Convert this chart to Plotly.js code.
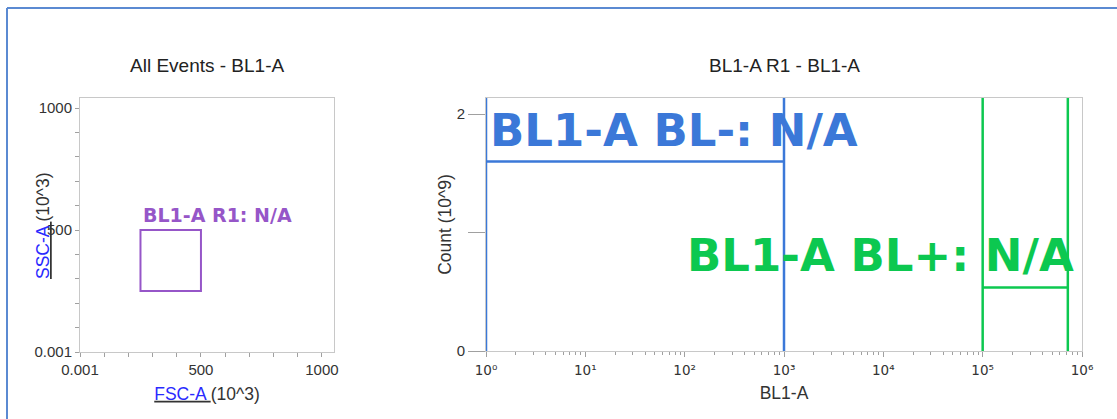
<!DOCTYPE html>
<html><head><meta charset="utf-8">
<script src="https://cdn.plot.ly/plotly-3.0.1.min.js"></script>
<style>html,body{margin:0;padding:0;background:#fff;}#chart{width:1117px;height:419px;}</style>
</head><body><div id="chart"></div>
<script>
// ---- data ----
const plotTitles = ["All Events - BL1-A", "BL1-A R1 - BL1-A"];
// left dot plot: FSC-A vs SSC-A (10^3)
const dotTickVals = [0.001, 500, 1000];
const dotTickText = ["0.001", "500", "1000"];
const dotMinorVals = [100, 200, 300, 400, 600, 700, 800, 900];
const dotRangeX = [0.001, 1050];
const dotRangeY = [0.001, 1041];
const r1GateX = [250, 500];
const r1GateY = [250, 500];
const r1Label = "BL1-A R1: N/A";
// right histogram: BL1-A (log) vs Count (10^9)
const histTickVals = [1, 10, 100, 1000, 10000, 100000, 1000000];
const histTickText = ["10⁰", "10¹", "10²", "10³", "10⁴", "10⁵", "10⁶"];
const histRangeLog = [0, 6];
const countTickVals = [0, 2];
const countTickText = ["0", "2"];
const countMinorVals = [1];
const countRange = [0, 2.135];
const blMinusX = [1, 1000];
const blMinusLevel = 1.60;
const blMinusLabel = "BL1-A BL-: N/A";
const blPlusX = [100000, 720000];
const blPlusLevel = 0.535;
const blPlusLabel = "BL1-A BL+: N/A";

// ---- styles ----
const W = 1117, H = 419;
const px = v => v / W, py = v => 1 - v / H;
const BASE = "Liberation Sans, Arial, sans-serif";
const GATEFONT = "DejaVu Sans, Verdana, sans-serif";
const TXT = "#333333";
const FRAME = "#c8c8c8";
const TICK = "#a0a0a0";
const BLUE = "#3b78d8", GREEN = "#0cc850", PURPLE = "#9656c8", OUTER = "#5b8ad2";
const LINK = "#2a2aff";
const titleFont = {family: BASE, size: 17.5, color: TXT};

const histMinor = [];
for (let d = 0; d < 6; d++) for (let m = 2; m <= 9; m++) histMinor.push(m * Math.pow(10, d));

const commonAxis = {
  showgrid: false, zeroline: false, showline: true, mirror: true,
  linecolor: FRAME, linewidth: 1, ticks: "outside", tickcolor: TICK,
  tickfont: {family: BASE, size: 15, color: TXT}
};

const traces = [
  {type: "scatter", mode: "markers", x: [], y: [], xaxis: "x", yaxis: "y", showlegend: false, hoverinfo: "skip"},
  {type: "scatter", mode: "markers", x: [], y: [], xaxis: "x2", yaxis: "y2", showlegend: false, hoverinfo: "skip"}
];

const layout = {
  width: W, height: H, margin: {l: 0, r: 0, t: 0, b: 0},
  paper_bgcolor: "#fff", plot_bgcolor: "#fff", showlegend: false,
  font: {family: BASE, color: TXT},
  xaxis: Object.assign({}, commonAxis, {
    domain: [px(80), px(334)], range: dotRangeX, anchor: "y",
    tickmode: "array", tickvals: dotTickVals, ticktext: dotTickText, ticklen: 4,
    minor: {tickmode: "array", tickvals: dotMinorVals, ticks: "outside", ticklen: 4, tickcolor: TICK},
    title: {text: '<u><span style="color:' + LINK + '">FSC-A </span></u>(10^3)', font: titleFont, standoff: 10}
  }),
  yaxis: Object.assign({}, commonAxis, {
    domain: [py(352), py(98)], range: dotRangeY, anchor: "x",
    tickmode: "array", tickvals: dotTickVals, ticktext: dotTickText, ticklen: 4,
    minor: {tickmode: "array", tickvals: dotMinorVals, ticks: "outside", ticklen: 4, tickcolor: TICK}
  }),
  xaxis2: Object.assign({}, commonAxis, {
    domain: [px(486), px(1082)], type: "log", range: histRangeLog, anchor: "y2",
    tickmode: "array", tickvals: histTickVals, ticktext: histTickText,
    tickfont: {family: "DejaVu Sans, sans-serif", size: 13.5, color: TXT},
    ticklen: 5, ticklabelstandoff: 2,
    minor: {tickmode: "array", tickvals: histMinor, ticks: "outside", ticklen: 3, tickcolor: TICK},
    title: {text: "BL1-A", font: titleFont, standoff: 9}
  }),
  yaxis2: Object.assign({}, commonAxis, {
    domain: [py(351), py(98)], range: countRange, anchor: "x2",
    tickmode: "array", tickvals: countTickVals, ticktext: countTickText, ticklen: 17,
    minor: {tickmode: "array", tickvals: countMinorVals, ticks: "outside", ticklen: 17, tickcolor: TICK},
    title: {text: "Count (10^9)", font: titleFont, standoff: 0}
  }),
  shapes: [
    // outer panel frame
    {type: "line", xref: "paper", yref: "paper", x0: px(7), x1: 1, y0: py(8), y1: py(8), line: {color: OUTER, width: 2}},
    {type: "line", xref: "paper", yref: "paper", x0: px(7), x1: px(7), y0: py(8), y1: 0, line: {color: OUTER, width: 2}},
    // R1 gate
    {type: "rect", xref: "x", yref: "y", x0: r1GateX[0], x1: r1GateX[1], y0: r1GateY[0], y1: r1GateY[1],
     line: {color: PURPLE, width: 2}, layer: "above"},
    // BL- gate
    {type: "line", xref: "x2", yref: "y2 domain", x0: blMinusX[0], x1: blMinusX[0], y0: 0, y1: 1, line: {color: BLUE, width: 2.5}},
    {type: "line", xref: "x2", yref: "y2 domain", x0: blMinusX[1], x1: blMinusX[1], y0: 0, y1: 1, line: {color: BLUE, width: 2.5}},
    {type: "line", xref: "x2", yref: "y2", x0: blMinusX[0], x1: blMinusX[1], y0: blMinusLevel, y1: blMinusLevel, line: {color: BLUE, width: 2.5}},
    // BL+ gate
    {type: "line", xref: "x2", yref: "y2 domain", x0: blPlusX[0], x1: blPlusX[0], y0: 0, y1: 1, line: {color: GREEN, width: 2.5}},
    {type: "line", xref: "x2", yref: "y2 domain", x0: blPlusX[1], x1: blPlusX[1], y0: 0, y1: 1, line: {color: GREEN, width: 2.5}},
    {type: "line", xref: "x2", yref: "y2", x0: blPlusX[0], x1: blPlusX[1], y0: blPlusLevel, y1: blPlusLevel, line: {color: GREEN, width: 2.5}}
  ],
  annotations: [
    {text: plotTitles[0], xref: "paper", yref: "paper", x: (px(80) + px(334)) / 2, y: py(65),
     xanchor: "center", yanchor: "middle", showarrow: false, font: {family: BASE, size: 19, color: "#222"}},
    {text: plotTitles[1], xref: "paper", yref: "paper", x: (px(486) + px(1082)) / 2, y: py(65),
     xanchor: "center", yanchor: "middle", showarrow: false, font: {family: BASE, size: 19, color: "#222"}},
    // left y-axis title (overlaps the tick labels, as in the source)
    {text: '<u><span style="color:' + LINK + '">SSC-A </span></u>(10^3)', xref: "paper", yref: "paper",
     x: px(43), y: py(226), xanchor: "center", yanchor: "middle", textangle: -90, showarrow: false, font: titleFont},
    {text: "<b>" + r1Label + "</b>", xref: "x", yref: "y", x: r1GateX[0], y: r1GateY[1],
     xanchor: "left", yanchor: "bottom", xshift: 1, yshift: 2, showarrow: false,
     font: {family: GATEFONT, size: 19, color: PURPLE}},
    {text: "<b>" + blMinusLabel + "</b>", xref: "x2", yref: "y2", x: Math.log10(blMinusX[0]), y: blMinusLevel,
     xanchor: "left", yanchor: "bottom", xshift: 2, yshift: 2, showarrow: false,
     font: {family: GATEFONT, size: 45, color: BLUE}},
    {text: "<b>" + blPlusLabel + "</b>", xref: "x2", yref: "y2", x: Math.log10(blPlusX[1]), y: blPlusLevel,
     xanchor: "right", yanchor: "bottom", xshift: 8, yshift: 4, showarrow: false,
     font: {family: GATEFONT, size: 45, color: GREEN}}
  ]
};

Plotly.newPlot("chart", traces, layout, {displayModeBar: false, staticPlot: true});
</script>
</body></html>
